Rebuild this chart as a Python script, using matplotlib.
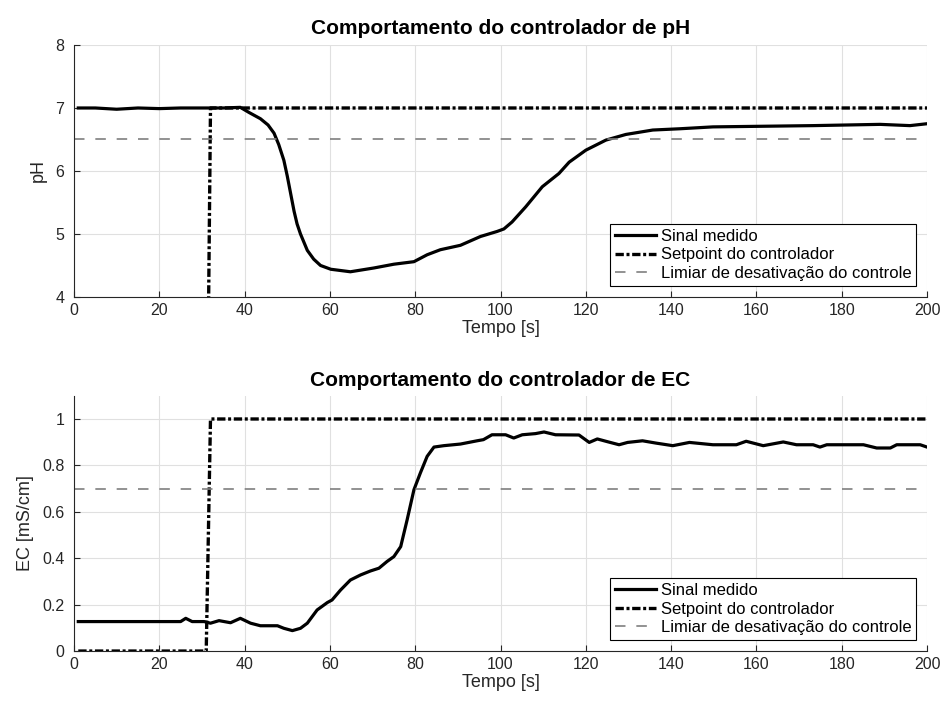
import matplotlib
matplotlib.use("Agg")
import matplotlib.pyplot as plt

plt.rcParams['font.family'] = ['Liberation Sans', 'DejaVu Sans']

# pH loop: measured signal
t_ph = [1, 5, 10, 15, 20, 25, 30, 35, 39, 41, 43.7, 45.5, 46.9, 48, 49.2,
        50, 50.8, 51.6, 52.3, 53.1, 54.7, 56.2, 57.8, 60.2, 64.8, 70.3, 75,
        79.7, 82.8, 85.9, 90.6, 95.3, 99.2, 100.8, 102.7, 105.9, 109.8,
        113.7, 116.1, 120, 124.7, 129.4, 135.7, 142, 149.8, 161.6, 173.3,
        189, 196, 200]
ph = [7.0, 7.0, 6.98, 7.0, 6.99, 7.0, 7.0, 7.0, 7.01, 6.93, 6.83, 6.73, 6.6,
      6.42, 6.17, 5.92, 5.64, 5.36, 5.16, 5.0, 4.74, 4.6, 4.5, 4.44, 4.4, 4.46,
      4.52, 4.56, 4.67, 4.75, 4.82, 4.96, 5.04, 5.08, 5.19, 5.43, 5.75, 5.96,
      6.14, 6.33, 6.49, 6.58, 6.65, 6.67, 6.70, 6.71, 6.72, 6.74, 6.72, 6.75]

# EC loop: measured signal
t_ec = [1, 25, 26.2, 27.7, 30.5, 32, 34, 36.7, 39, 41.4, 43.7, 47.7, 49.2,
        51.2, 53.1, 54.7, 57, 59.4, 60.5, 62.5, 64.8, 67.2, 69.5, 71.5, 73.4,
        75, 76.6, 78.1, 79.7, 81.2, 82.8, 84.4, 86.7, 90.6, 94.5, 96, 98,
        101.2, 103.1, 105.1, 108.2, 110.2, 112.9, 118.4, 120.8, 122.7, 124.7,
        127.8, 129.8, 133.3, 136.5, 140.4, 144.3, 149.8, 155.3, 157.6, 161.6,
        166.3, 169.4, 173.3, 174.9, 176.5, 185.1, 188.2, 191.4, 192.9, 198.4,
        200]
ec = [0.127, 0.127, 0.141, 0.127, 0.127, 0.12, 0.131, 0.122, 0.141, 0.12,
      0.109, 0.109, 0.098, 0.088, 0.098, 0.12, 0.177, 0.209, 0.22, 0.263,
      0.306, 0.328, 0.345, 0.357, 0.386, 0.407, 0.45, 0.565, 0.695, 0.767,
      0.839, 0.879, 0.885, 0.892, 0.906, 0.911, 0.932, 0.932, 0.918, 0.932,
      0.937, 0.944, 0.932, 0.931, 0.899, 0.914, 0.904, 0.889, 0.899, 0.906,
      0.896, 0.885, 0.899, 0.889, 0.889, 0.904, 0.885, 0.901, 0.889, 0.889,
      0.879, 0.889, 0.889, 0.875, 0.875, 0.889, 0.889, 0.879]

# setpoints switch on at t = 31..32 s
t_sp = [1, 31, 32, 200]
sp_ph = [0, 0, 7, 7]
sp_ec = [0, 0, 1, 1]

limiar_ph = 6.5
limiar_ec = 0.7

labels = ['Sinal medido', 'Setpoint do controlador',
          'Limiar de desativação do controle']

fig = plt.figure(figsize=(9.44, 7.13), dpi=100)
ax1 = fig.add_axes([0.0784, 0.5835, 0.9036, 0.3534])
ax2 = fig.add_axes([0.0784, 0.0869, 0.9036, 0.358])

txt = '#262626'


def style(ax):
    for s in ['top', 'right']:
        ax.spines[s].set_visible(False)
    for s in ['left', 'bottom']:
        ax.spines[s].set_color(txt)
        ax.spines[s].set_linewidth(0.8)
    ax.tick_params(direction='in', length=4, width=0.8, colors=txt,
                   labelsize=11.5, top=False, right=False)
    ax.tick_params(axis='y', pad=7)
    ax.tick_params(axis='x', pad=4)
    ax.grid(True, color='#e0e0e0', linewidth=0.8)
    ax.set_axisbelow(True)
    ax.set_xlim(0, 200)
    ax.set_xticks(range(0, 201, 20))
    ax.set_xlabel('Tempo [s]', fontsize=13, color=txt, labelpad=2)


def draw(ax, t, y, sp, lim):
    ax.plot(t, y, color='black', linewidth=2.3, label=labels[0])
    ax.plot(t_sp, sp, color='black', linewidth=2.4,
            dashes=(2.5, 0.8, 0.9, 0.8), label=labels[1])
    ax.axhline(lim, color='#7f7f7f', linewidth=1.2, dashes=(6.3, 6.5),
               label=labels[2])
    leg = ax.legend(loc='lower right', fontsize=12, frameon=True,
                    fancybox=False, edgecolor='black', framealpha=1,
                    handlelength=2.5, borderpad=0.3, labelspacing=0.22,
                    handletextpad=0.26, borderaxespad=0.65)
    leg.get_frame().set_linewidth(0.8)


draw(ax1, t_ph, ph, sp_ph, limiar_ph)
style(ax1)
ax1.set_ylim(4, 8)
ax1.set_yticks([4, 5, 6, 7, 8])
ax1.set_ylabel('pH', fontsize=13, color=txt, labelpad=6)
ax1.set_title('Comportamento do controlador de pH', fontsize=15,
              fontweight='bold', pad=8)

draw(ax2, t_ec, ec, sp_ec, limiar_ec)
style(ax2)
ax2.set_ylim(0, 1.1)
ax2.set_yticks([0, 0.2, 0.4, 0.6, 0.8, 1])
ax2.set_yticklabels(['0', '0.2', '0.4', '0.6', '0.8', '1'])
ax2.set_ylabel('EC [mS/cm]', fontsize=13, color=txt, labelpad=6)
ax2.set_title('Comportamento do controlador de EC', fontsize=15,
              fontweight='bold', pad=7)

fig.savefig('out.png', dpi=100)
